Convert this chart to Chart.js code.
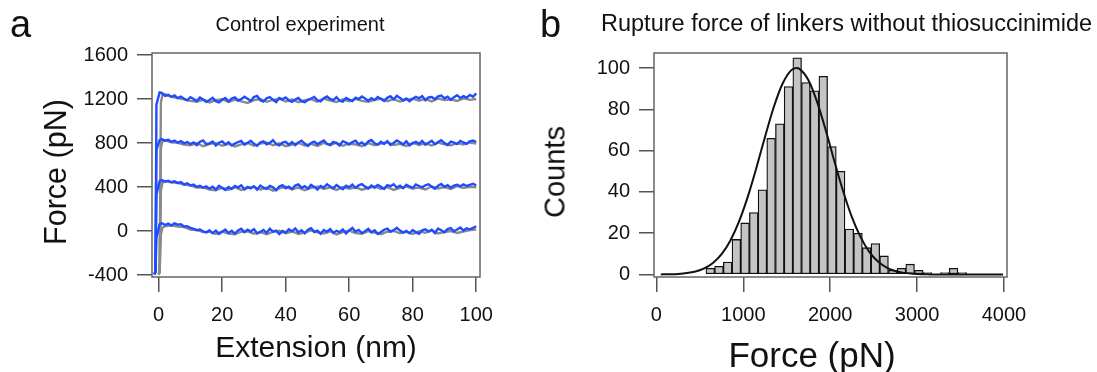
<!DOCTYPE html>
<html>
<head>
<meta charset="utf-8">
<script src="https://cdn.jsdelivr.net/npm/chart.js@4.4.1/dist/chart.umd.min.js"></script>
<style>
  html, body { margin: 0; padding: 0; background: #fff; }
  body { width: 1097px; height: 372px; position: relative; overflow: hidden;
    font-family: "Liberation Sans", Arial, sans-serif; color: #111; }
  .wrap { position: absolute; top: 0; height: 372px; }
  #wrap-a { left: 0; width: 530px; }
  #wrap-b { left: 530px; width: 567px; }
  .letter { position: absolute; font-size: 38px; line-height: 1; }
  .title { position: absolute; font-size: 20px; line-height: 1; white-space: nowrap; }
  .lab { position: absolute; line-height: 1; white-space: nowrap; transform: translate(-50%, -50%); }
  .lab.rot { transform: translate(-50%, -50%) rotate(-90deg); }
</style>
</head>
<body>
<div class="wrap" id="wrap-a"><canvas id="chart-a" width="530" height="372"></canvas></div>
<div class="wrap" id="wrap-b"><canvas id="chart-b" width="567" height="372"></canvas></div>
<div class="letter" style="left:10px;top:5px">a</div>
<div class="letter" style="left:540px;top:5px">b</div>
<div class="title" style="left:300px;top:14px;transform:translateX(-50%)">Control experiment</div>
<div class="title" style="left:601px;top:12px;font-size:23.5px">Rupture force of linkers without thiosuccinimide</div>
<div class="lab rot" style="left:55px;top:172px;font-size:30.5px">Force (pN)</div>
<div class="lab" style="left:316px;top:347px;font-size:30px">Extension (nm)</div>
<div class="lab rot" style="left:555px;top:172px;font-size:29px">Counts</div>
<div class="lab" style="left:812px;top:354px;font-size:35px">Force (pN)</div>
<script>
// Panel a: force–extension traces, stacked 400 pN apart (gray under blue).
// Panel b: rupture-force histogram with its Gaussian fit.

const FONT = "'Liberation Sans', Arial, sans-serif";

// ---- panel a ----
const LEVELS = [0, 400, 800, 1200];
const A_X_TICKS = [0, 20, 40, 60, 80, 100];
const A_Y_TICKS = [-400, 0, 400, 800, 1200, 1600];

// approach segment at the start of every trace (nm, pN)
const BLUE_START_X = [-1.3, -1.0, -0.7, 0.3];
const BLUE_STARTS = [
  [-395, -372, -60, 62],
  [-392, -365, 330, 455],
  [-396, -360, 740, 828],
  [-390, -368, 1150, 1262],
];
const GRAY_START_X = [0.0, 0.3, 0.7, 1.2];
const GRAY_STARTS = [
  [-398, -380, -30, 30],
  [-395, -370, 370, 440],
  [-392, -360, 760, 815],
  [-390, -375, 1170, 1240],
];

// blue traces: offset from their level (pN), one value per nm from 1 to 100
const BLUE_0 = [72, 55, 68, 50, 70, 58, 62, 42, 45, 28, 20, 8, 14, -4,
  -12, 8, -20, 4, -26, -6, 14, -18, 2, -24, 6, 22, -10, 12, -4, 18, -22, -8, 10, -16,
  20, -6, 4, -28, 0, -14, 16, -2, 24, -12, 8, -20, 12, 26, -8, 4, -24, 10, -6, 18,
  -16, 2, -10, 14, -22, 6, 28, -4, 10, -18, -2, 20, -12, 6, -26, -8, 12, 22, -6, 8,
  30, 4, -14, 2, -20, 10, -10, -24, 6, 16, -4, 12, -18, 22, 8, -10, 18, 26, -2, 14,
  32, 6, 24, 16, 28, 44];
const BLUE_400 = [64, 50, 58, 44, 52, 36, 46, 24, 34, 14, 22, 2, 12, -6,
  6, -14, 4, -22, 12, -8, -26, 0, -18, 10, -4, 16, -20, 2, -12, 8, -24, 14, -6, -16,
  10, -2, -28, 6, 18, -10, 4, -18, 14, 24, -6, 8, -14, 20, 2, -22, 10, -4, 26, 6,
  -10, 18, -2, -20, 12, 0, 22, -8, 16, 28, 4, -12, 14, -6, 20, 2, -16, 18, 8, 26,
  -4, 12, -10, 22, 6, -8, 24, 10, -2, 16, 26, 4, -14, 12, 28, 2, 18, -6, 14, 22,
  8, 24, 10, 20, 30, 16];
const BLUE_800 = [36, 22, 30, 12, 24, 4, 18, -2, 10, -8,
  6, -18, 12, 24, -10, -2, 14, -22, 4, 16, -12, 8, -20, -4, 10, 20, -14, 2, 22, -6,
  -24, 6, 16, -10, 2, 26, -8, -20, 4, 12, -14, 10, -18, 6, 22, -4, -26, 2, 14, -10,
  8, 24, -6, -16, 12, 0, -22, 18, 4, -12, 10, 22, -10, 6, -18, 14, 28, -2, -14, 12,
  -8, 18, -16, 2, 24, 8, -12, 16, -20, -2, 12, -6, 20, -14, 4, 22, -10, 10, 26, 0,
  -16, 14, 4, -8, 20, 6, -6, 16, 24, 10];
const BLUE_1200 = [58, 30, 40, 22, 34, 10, 24, 4,
  -10, 18, 2, -16, 14, -4, -24, -8, 12, -18, -30, -6, 10, -20, 6, 16, -12, 0, 22, 4,
  -16, 20, 30, -10, -22, 8, 18, -6, -26, 10, -2, 16, -12, -24, -4, 10, -18, -28, -8, 6,
  20, -10, -20, 8, 24, 2, -8, 18, -14, -22, 10, -4, -18, 14, 0, 24, 6, -14, 8, -8,
  20, 2, -16, 12, 26, -2, 30, 10, -10, 6, -18, 4, 22, 8, 28, -10, 16, 20, 0, 26,
  32, 8, 22, -6, 18, 36, 10, 28, 14, 38, 22, 52];

// gray traces: offset from their level (pN), one value every 2 nm from 2 to 100
const GRAY_0 = [44, 52, 40, 36, 14, 10, -10, -6, -26, -4,
  -22, -30, -6, -2, -24, -10, -28, -8, 2, -20,
  -4, -26, -14, 6, -12, -22, -2, -30, -10, 4,
  -18, -24, 0, -14, -28, -6, 2, -20, -8, -26,
  -2, -16, 6, -22, -10, 0, -18, -4, 8, 14];
const GRAY_400 = [52, 44, 40, 20, 16, -4, -2, -22, -28, -6,
  -24, 0, -26, -10, 4, -22, -6, -32, -12, 2,
  -20, -4, -28, -8, 6, -18, -2, -26, 0, -16,
  -2, -24, -8, 6, -18, 0, -26, -6, 4, -14,
  -4, -22, 6, -12, 0, -18, 8, -8, 2, -2];
const GRAY_800 = [26, 8, 2, -14, -20, 0, -28, -8, 2, -24,
  -6, -30, -12, 2, -24, -4, 6, -20, -2, -28,
  -14, 2, -22, -6, -26, 2, -18, 4, -24, -4,
  -12, -28, 0, -20, -4, 8, -18, -6, -26, 2,
  -16, -2, -22, 4, -10, -20, 0, -12, 6, -4];
const GRAY_1200 = [44, 20, 10, -2, -16, -24, -4, -30, -10, 0,
  -26, -4, -20, -34, -8, 2, -24, -6, 4, -22,
  -2, -28, -10, 0, -22, 6, -14, -26, -2, -18,
  2, -16, -24, -6, 6, -18, 0, -22, -4, 4,
  -14, 2, -20, 6, -8, -2, -16, 8, -6, 2];

const BLUES = [BLUE_0, BLUE_400, BLUE_800, BLUE_1200];
const GRAYS = [GRAY_0, GRAY_400, GRAY_800, GRAY_1200];
const BLUE_X = BLUE_0.map((_, i) => i + 1);
const GRAY_X = GRAY_0.map((_, i) => 2 * (i + 1));

// ---- panel b ----
const BIN_CENTERS = [620, 720, 820, 920, 1020, 1120, 1220, 1320, 1420, 1520, 1620, 1720, 1820, 1920, 2020,
  2120, 2220, 2320, 2420, 2520, 2620, 2720, 2820, 2920, 3020, 3120, 3220, 3320, 3420, 3520];
const COUNTS = [3, 4, 6, 17, 25, 30, 41, 66, 73, 91, 105, 93, 89, 96, 62,
  50, 22, 20, 13, 15, 9, 2, 3, 5, 2, 1, 0, 1, 3, 1];
const FIT_X = [50, 150, 250, 350, 450, 550, 650, 750, 850, 950, 1050, 1150, 1250, 1350, 1450, 1550, 1610,
  1650, 1750, 1850, 1950, 2050, 2150, 2250, 2350, 2450, 2550, 2650, 2750, 2850, 2950, 3050, 3150, 3250, 3990];
const FIT_Y = [0.05, 0.13, 0.31, 0.7, 1.5, 3.0, 5.6, 9.9, 16.4, 25.6, 37.5, 51.6, 66.7, 81.0, 92.3, 98.9, 100,
  99.5, 94.1, 83.5, 69.7, 54.6, 40.2, 27.8, 18.1, 11.0, 6.3, 3.4, 1.7, 0.8, 0.4, 0.15, 0.06, 0, 0];
const B_X_TICKS = [0, 1000, 2000, 3000, 4000];
const B_Y_TICKS = [0, 20, 40, 60, 80, 100];

// box round the plot area
const frame = {
  id: "frame",
  afterDatasetsDraw(chart) {
    const { ctx, chartArea: a } = chart;
    ctx.save();
    ctx.strokeStyle = "#666";
    ctx.lineWidth = 1.5;
    ctx.strokeRect(a.left, a.top, a.right - a.left, a.bottom - a.top);
    ctx.restore();
  },
};

function axis(min, max, ticks, horizontal, thick) {
  return {
    type: "linear", min, max, offset: false,
    afterBuildTicks: (s) => { s.ticks = ticks.map((v) => ({ value: v })); },
    afterFit: (s) => { if (horizontal) s.height = thick; else s.width = thick; },
    border: { display: false },
    grid: { drawOnChartArea: false, drawTicks: true, tickLength: 15, color: "#555", lineWidth: 1.5, offset: false },
    ticks: { color: "#111", font: { family: FONT, size: 20 }, padding: horizontal ? 11 : 9,
      maxRotation: 0, autoSkip: false, callback: (v) => String(v) },
    title: { display: false },
  };
}

const common = {
  responsive: false, animation: false, events: [],
  plugins: { legend: { display: false }, tooltip: { enabled: false } },
};

function trace(sx, sy, off, gx, lv, color, order) {
  const pts = sx.map((x, i) => ({ x, y: sy[i] })).concat(gx.map((x, i) => ({ x, y: lv + off[i] })));
  return { data: pts, borderColor: color, borderWidth: 2.4, pointRadius: 0, tension: 0, fill: false, order };
}

const dsA = [];
LEVELS.forEach((lv, k) => {
  dsA.push(trace(GRAY_START_X, GRAY_STARTS[k], GRAYS[k], GRAY_X, lv, "#8a8a8a", 1));
  dsA.push(trace(BLUE_START_X, BLUE_STARTS[k], BLUES[k], BLUE_X, lv, "#1f4cff", 0));
});

new Chart(document.getElementById("chart-a"), {
  type: "line",
  data: { datasets: dsA },
  options: {
    ...common,
    layout: { padding: { top: 53, right: 50, bottom: 0, left: 0 } },
    scales: {
      x: axis(-2.1, 101.2, A_X_TICKS, true, 95),
      y: axis(-418, 1620, A_Y_TICKS, false, 152),
    },
  },
  plugins: [frame],
});

new Chart(document.getElementById("chart-b"), {
  data: {
    datasets: [
      { type: "bar", data: BIN_CENTERS.map((x, i) => ({ x, y: COUNTS[i] })), backgroundColor: "#c4c4c4",
        borderColor: "#111", borderWidth: 1.3, borderSkipped: false, barPercentage: 1, categoryPercentage: 1, order: 1 },
      { type: "line", data: FIT_X.map((x, i) => ({ x, y: FIT_Y[i] })), borderColor: "#111", borderWidth: 2,
        pointRadius: 0, cubicInterpolationMode: "monotone", fill: false, order: 0 },
    ],
  },
  options: {
    ...common,
    layout: { padding: { top: 53, right: 90, bottom: 0, left: 0 } },
    scales: {
      x: axis(-28, 4035, B_X_TICKS, true, 95),
      y: axis(-1.2, 107.3, B_Y_TICKS, false, 124),
    },
  },
  plugins: [frame],
});
</script>
</body>
</html>
